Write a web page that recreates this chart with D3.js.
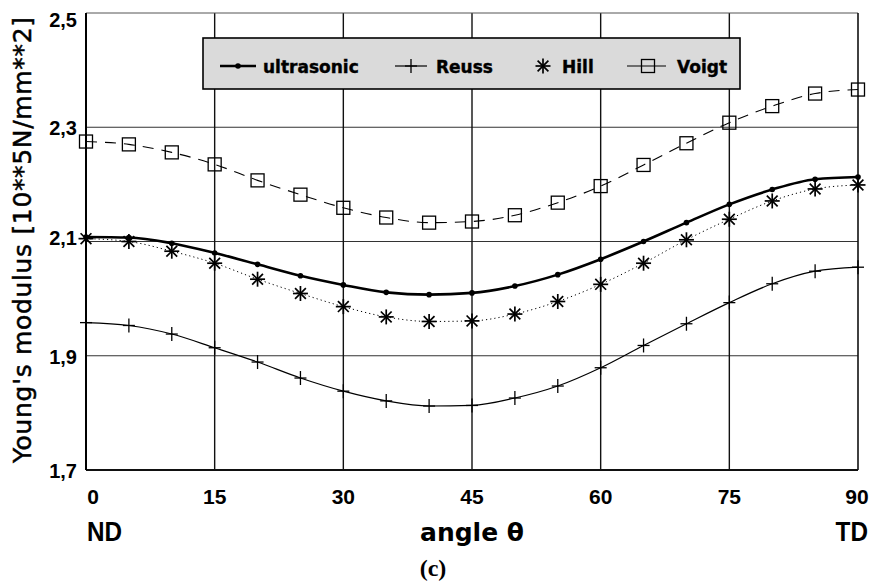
<!DOCTYPE html>
<html>
<head>
<meta charset="utf-8">
<script src="https://cdn.jsdelivr.net/npm/d3@7"></script>
<style>
  html, body { margin: 0; padding: 0; background: #fff; }
  svg { display: block; }
</style>
</head>
<body>
<div id="chart"></div>
<script>
// ---- data ----
const angles = [0, 5, 10, 15, 20, 25, 30, 35, 40, 45, 50, 55, 60, 65, 70, 75, 80, 85, 90];
const ultrasonic = [2.108, 2.107, 2.097, 2.080, 2.060, 2.040, 2.024, 2.011, 2.007, 2.010, 2.022, 2.042, 2.069, 2.100, 2.133, 2.165, 2.191, 2.209, 2.213];
const reuss = [1.958, 1.953, 1.938, 1.914, 1.889, 1.861, 1.838, 1.821, 1.812, 1.813, 1.826, 1.847, 1.879, 1.918, 1.956, 1.993, 2.026, 2.048, 2.055];
const hill = [2.105, 2.100, 2.083, 2.062, 2.034, 2.009, 1.986, 1.968, 1.960, 1.961, 1.973, 1.995, 2.025, 2.062, 2.103, 2.139, 2.171, 2.192, 2.199];
const voigt = [2.275, 2.270, 2.256, 2.235, 2.207, 2.182, 2.159, 2.142, 2.133, 2.135, 2.146, 2.168, 2.197, 2.234, 2.272, 2.308, 2.337, 2.359, 2.366];
const xTicks = [0, 15, 30, 45, 60, 75, 90];
const yTicks = [1.7, 1.9, 2.1, 2.3, 2.5];
const yTickLabels = ["1,7", "1,9", "2,1", "2,3", "2,5"];
const seriesNames = ["ultrasonic", "Reuss", "Hill", "Voigt"];

// ---- layout ----
const W = 877, H = 585;
const svg = d3.select("#chart").append("svg").attr("width", W).attr("height", H);
const x = d3.scaleLinear().domain([0, 90]).range([86, 858]);
const y = d3.scaleLinear().domain([1.7, 2.5]).range([470, 13]);

// grid
const g = svg.append("g");
g.selectAll("line.hg").data(yTicks.slice(1, -1)).enter().append("line")
  .attr("x1", x(0)).attr("x2", x(90)).attr("y1", d => y(d)).attr("y2", d => y(d))
  .attr("stroke", "#333").attr("stroke-width", 1.2);
g.selectAll("line.vg").data(xTicks.slice(1, -1)).enter().append("line")
  .attr("y1", y(1.7)).attr("y2", y(2.5)).attr("x1", d => x(d)).attr("x2", d => x(d))
  .attr("stroke", "#111").attr("stroke-width", 1.4);
// frame
g.append("line").attr("x1", x(0)).attr("x2", x(90)).attr("y1", y(2.5)).attr("y2", y(2.5)).attr("stroke", "#555").attr("stroke-width", 1);
g.append("line").attr("x1", x(90)).attr("x2", x(90)).attr("y1", y(2.5)).attr("y2", y(1.7)).attr("stroke", "#111").attr("stroke-width", 1.6);
g.append("line").attr("x1", x(0)).attr("x2", x(90)).attr("y1", y(1.7)).attr("y2", y(1.7)).attr("stroke", "#111").attr("stroke-width", 1.8);
g.append("line").attr("x1", x(0)).attr("x2", x(0)).attr("y1", y(2.5)).attr("y2", y(1.7)).attr("stroke", "#000").attr("stroke-width", 2);

// tick labels
const tickFont = "'Liberation Sans', Arial, sans-serif";
const yLabelOffset = v => (v === 2.5 ? 14 : v === 2.1 ? 3 : 8);
svg.selectAll("text.yt").data(yTicks).enter().append("text")
  .attr("x", 77).attr("y", d => y(d) + yLabelOffset(d))
  .attr("text-anchor", "end").attr("font-family", tickFont).attr("font-weight", "bold").attr("font-size", 20)
  .text((d, i) => yTickLabels[i]);
svg.selectAll("text.xt").data(xTicks).enter().append("text")
  .attr("x", d => x(d) + (d === 0 ? 7 : d === 90 ? -1 : 0)).attr("y", 504)
  .attr("text-anchor", "middle").attr("font-family", tickFont).attr("font-weight", "bold").attr("font-size", 21)
  .text(d => d);

// axis titles
svg.append("text").attr("transform", "translate(87,541) scale(0.9,1)").attr("font-family", tickFont).attr("font-weight", "bold").attr("font-size", 27).text("ND");
svg.append("text").attr("transform", "translate(868,541) scale(0.9,1)").attr("text-anchor", "end").attr("font-family", tickFont).attr("font-weight", "bold").attr("font-size", 27).text("TD");
svg.append("text").attr("x", 472).attr("y", 541).attr("text-anchor", "middle").attr("font-family", "'DejaVu Sans', sans-serif").attr("font-weight", "bold").attr("font-size", 25).text("angle θ");
svg.append("text").attr("x", 433).attr("y", 576).attr("text-anchor", "middle").attr("font-family", "'Liberation Serif', 'Times New Roman', serif").attr("font-weight", "bold").attr("font-size", 24).text("(c)");
svg.append("text")
  .attr("transform", "translate(31,240) rotate(-90)")
  .attr("text-anchor", "middle").attr("font-family", "'DejaVu Sans', sans-serif").attr("font-size", 25)
  .attr("stroke", "#000").attr("stroke-width", 0.5)
  .attr("textLength", 446).attr("lengthAdjust", "spacing")
  .text("Young's modulus [10**5N/mm**2]");

// ---- series ----
const pts = vals => angles.map((a, i) => [x(a), y(vals[i])]);
const line = d3.line().curve(d3.curveMonotoneX);

// markers
function drawPlus(sel, cx, cy) {
  sel.append("line").attr("x1", cx).attr("x2", cx).attr("y1", cy - 7).attr("y2", cy + 7).attr("stroke", "#000").attr("stroke-width", 1.3);
  sel.append("line").attr("x1", cx - 6).attr("x2", cx + 6).attr("y1", cy).attr("y2", cy).attr("stroke", "#000").attr("stroke-width", 1.3);
}
function drawStar(sel, cx, cy) {
  const r = 7.5;
  [[0, r], [r, 0], [r * 0.72, r * 0.72], [r * 0.72, -r * 0.72]].forEach(([dx, dy]) => {
    sel.append("line").attr("x1", cx - dx).attr("x2", cx + dx).attr("y1", cy - dy).attr("y2", cy + dy).attr("stroke", "#000").attr("stroke-width", 1.7);
  });
}
function drawSquare(sel, cx, cy) {
  sel.append("rect").attr("x", cx - 6.5).attr("y", cy - 6.5).attr("width", 13).attr("height", 13)
    .attr("fill", "none").attr("stroke", "#000").attr("stroke-width", 1.3);
}
function drawDot(sel, cx, cy) {
  sel.append("circle").attr("cx", cx).attr("cy", cy).attr("r", 2.8).attr("fill", "#000");
}

// Voigt
const sv = svg.append("g");
sv.append("path").attr("d", line(pts(voigt))).attr("fill", "none").attr("stroke", "#000").attr("stroke-width", 1.1).attr("stroke-dasharray", "11,8");
pts(voigt).forEach(([cx, cy]) => drawSquare(sv, cx, cy));
// Hill
const sh = svg.append("g");
sh.append("path").attr("d", line(pts(hill))).attr("fill", "none").attr("stroke", "#000").attr("stroke-width", 1).attr("stroke-dasharray", "1.2,3");
pts(hill).forEach(([cx, cy]) => drawStar(sh, cx, cy));
// Reuss
const sr = svg.append("g");
sr.append("path").attr("d", line(pts(reuss))).attr("fill", "none").attr("stroke", "#000").attr("stroke-width", 1.2);
pts(reuss).forEach(([cx, cy]) => drawPlus(sr, cx, cy));
// ultrasonic
const su = svg.append("g");
su.append("path").attr("d", line(pts(ultrasonic))).attr("fill", "none").attr("stroke", "#000").attr("stroke-width", 2.6);
pts(ultrasonic).forEach(([cx, cy]) => drawDot(su, cx, cy));

// ---- legend ----
const lg = svg.append("g");
lg.append("rect").attr("x", 203).attr("y", 38).attr("width", 537).attr("height", 51)
  .attr("fill", "#dadada").attr("stroke", "#000").attr("stroke-width", 1.6);
const legendFont = "'DejaVu Sans', sans-serif";
const ly = 66;
const legendItems = [
  { name: seriesNames[0], x1: 220, x2: 256, mx: 238, draw: drawDot, w: 2.6, tx: 263 },
  { name: seriesNames[1], x1: 395, x2: 427, mx: 411, draw: drawPlus, w: 1.2, tx: 436 },
  { name: seriesNames[2], x1: 543, x2: 543, mx: 543, draw: drawStar, w: 1, tx: 562 },
  { name: seriesNames[3], x1: 627, x2: 666, mx: 648, draw: drawSquare, w: 1.2, tx: 677 }
];
legendItems.forEach(it => {
  if (it.x2 > it.x1) lg.append("line").attr("x1", it.x1).attr("x2", it.x2).attr("y1", ly).attr("y2", ly).attr("stroke", "#000").attr("stroke-width", it.w);
  it.draw(lg, it.mx, ly);
  lg.append("text").attr("x", it.tx).attr("y", ly + 7).attr("font-family", legendFont).attr("font-weight", "bold").attr("font-size", 17)
    .attr("stroke", "#000").attr("stroke-width", 0.4).text(it.name);
});
</script>
</body>
</html>
